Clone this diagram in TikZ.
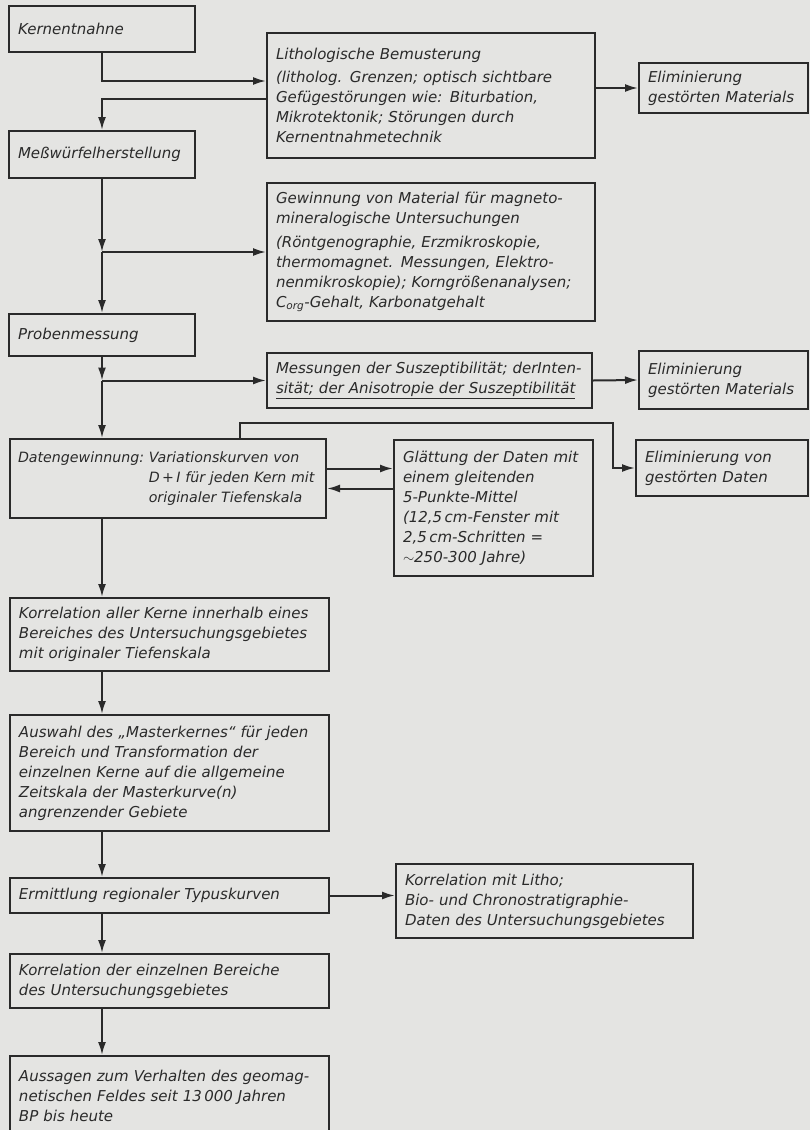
\documentclass[tikz,border=0pt]{standalone}
\usepackage{fontspec}
\setmainfont{DejaVu Sans}
\usetikzlibrary{arrows.meta}
\definecolor{ink}{HTML}{2A2A2A}
\definecolor{paper}{HTML}{E4E4E2}
\tikzset{
    stepbox/.style = {draw=ink, line width=2pt, rectangle, anchor=north west, align=left, inner xsep=9pt, inner ysep=0pt, text=ink, font=\fontsize{15}{20}\selectfont\itshape},
    flow/.style = {draw=ink, line width=2pt, -{Latex[length=13pt,width=8pt]}},
}

\begin{document}
\begin{tikzpicture}[x=1pt, y=-1pt]
\fill[paper] (0,0) rectangle (810,1130);
\useasboundingbox (0,0) rectangle (810,1130);

% main column
\node[stepbox, text width=168pt, minimum height=46pt] (kern) at (8,5) {Kernentnahne};
\node[stepbox, text width=168pt, minimum height=47pt] (mess) at (8,130) {Meßwürfelherstellung};
\node[stepbox, text width=168pt, minimum height=42pt] (probe) at (8,313) {Probenmessung};
\node[stepbox, text width=300pt, inner xsep=8pt, minimum height=79pt, font=\fontsize{14.2}{20}\selectfont\itshape] (daten) at (9,438) {%
    \begin{tabular}[t]{@{}l@{\ }l@{}}
    Datengewinnung: & Variationskurven von\\
    & D\,+\,I für jeden Kern mit\\
    & originaler Tiefenskala
    \end{tabular}};
\node[stepbox, text width=301pt, minimum height=73pt] (korr1) at (9,597) {Korrelation aller Kerne innerhalb eines\\Bereiches des Untersuchungsgebietes\\mit originaler Tiefenskala};
\node[stepbox, text width=301pt, minimum height=116pt] (ausw) at (9,714) {Auswahl des „Masterkernes“ für jeden\\Bereich und Transformation der\\einzelnen Kerne auf die allgemeine\\Zeitskala der Masterkurve(n)\\angrenzender Gebiete};
\node[stepbox, text width=301pt, minimum height=35pt] (ermitt) at (9,877) {Ermittlung regionaler Typuskurven};
\node[stepbox, text width=301pt, minimum height=54pt] (korr2) at (9,953) {Korrelation der einzelnen Bereiche\\des Untersuchungsgebietes};
\node[stepbox, text width=301pt, minimum height=80pt] (aussagen) at (9,1055) {Aussagen zum Verhalten des geomag-\\netischen Feldes seit 13\,000 Jahren\\BP bis heute};

% side boxes
\node[stepbox, text width=310pt, minimum height=125pt] (lith) at (266,32) {Lithologische Bemusterung\\[3pt](litholog. Grenzen; optisch sichtbare\\Gefügestörungen wie: Biturbation,\\Mikrotektonik; Störungen durch\\Kernentnahmetechnik};
\node[stepbox, text width=310pt, minimum height=138pt] (gew) at (266,182) {Gewinnung von Material für magneto-\\mineralogische Untersuchungen\\[4pt](Röntgenographie, Erzmikroskopie,\\thermomagnet. Messungen, Elektro-\\nenmikroskopie); Korngrößenanalysen;\\C\textsubscript{org}-Gehalt, Karbonatgehalt};
\node[stepbox, text width=307pt, minimum height=55pt] (susz) at (266,352) {Messungen der Suszeptibilität; derInten-\\\underline{sität; der Anisotropie der Suszeptibilität}};
\node[stepbox, text width=181pt, minimum height=136pt] (glatt) at (393,439) {Glättung der Daten mit\\einem gleitenden\\5-Punkte-Mittel\\(12,5\,cm-Fenster mit\\2,5\,cm-Schritten =\\$\sim$250-300 Jahre)};
\node[stepbox, text width=279pt, minimum height=74pt] (korrlitho) at (395,863) {Korrelation mit Litho;\\Bio- und Chronostratigraphie-\\Daten des Untersuchungsgebietes};

% elimination boxes
\node[stepbox, text width=151pt, minimum height=50pt] (elim1) at (638,62) {Eliminierung\\gestörten Materials};
\node[stepbox, text width=151pt, minimum height=58pt] (elim2) at (638,350) {Eliminierung\\gestörten Materials};
\node[stepbox, text width=154pt, minimum height=56pt] (elimd) at (635,439) {Eliminierung von\\gestörten Daten};

% connectors
\draw[flow] (kern.south) |- ([yshift=14.5pt]lith.west);
\draw[flow] ([yshift=-3.5pt]lith.west) -| (mess.north);
\coordinate (b1) at (mess.south |- gew.west);
\draw[flow] (mess.south) -- (b1);
\draw[flow] (b1) -- (probe.north);
\draw[flow] (b1) -- (gew.west);
\coordinate (b2) at (probe.south |- susz.west);
\draw[flow] (probe.south) -- (b2);
\draw[flow] (b2) -- (daten.north -| probe.south);
\draw[flow] (b2) -- (susz.west);
\draw[flow] (lith.east |- elim1.west) -- (elim1.west);
\draw[flow] (susz.east) -- (elim2.west);
\draw[flow] ([yshift=10pt]daten.east) -- ([yshift=10pt]daten.east -| glatt.west);
\draw[flow] ([yshift=-10pt]daten.east -| glatt.west) -- ([yshift=-10pt]daten.east);
\coordinate (turn) at (613,423);
\draw[flow] ([xshift=72pt]daten.north) |- (turn) |- (elimd.west);
\foreach \a/\b in {daten/korr1, korr1/ausw, ausw/ermitt, ermitt/korr2, korr2/aussagen}
    \draw[flow] (\a.south -| kern.south) -- (\b.north -| kern.south);
\draw[flow] (ermitt.east) -- (ermitt.east -| korrlitho.west);
\end{tikzpicture}
\end{document}
